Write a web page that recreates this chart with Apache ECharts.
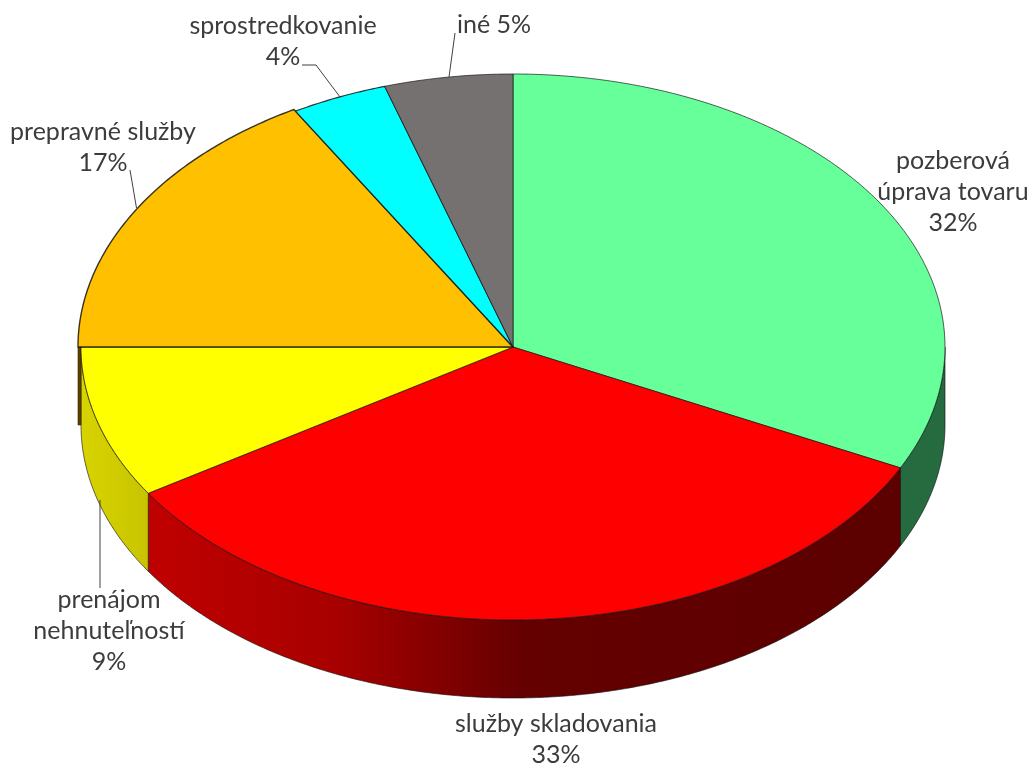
<!DOCTYPE html>
<html>
<head>
<meta charset="utf-8">
<style>html,body{margin:0;padding:0;background:#fff}#c{width:1032px;height:765px}</style>
<script src="https://cdn.jsdelivr.net/npm/echarts@6/dist/echarts.min.js"></script>
</head>
<body>
<div id="c"></div>
<script>
// Data
const categories = ['pozberová úprava tovaru', 'služby skladovania', 'prenájom nehnuteľností', 'prepravné služby', 'sprostredkovanie', 'iné'];
const percentLabels = [32, 33, 9, 17, 4, 5];
// visible share of the ellipse turn that each slice occupies in the tilted drawing
const visibleShares = [32.3, 33.7, 9.0, 16.6, 3.6, 4.8];

// Styles and layout
const topColors = ['#66ff99', '#ff0000', '#ffff00', '#ffc000', '#00ffff', '#767171'];
const wallColors = [
  '#256b3f',
  {type:'linear', x:147, y:0, x2:900, y2:0, global:true, colorStops:[{offset:0,color:'#c00000'},{offset:0.25,color:'#a80000'},{offset:0.5,color:'#640000'},{offset:1,color:'#5c0000'}]},
  {type:'linear', x:81, y:0, x2:147, y2:0, global:true, colorStops:[{offset:0,color:'#d8d400'},{offset:1,color:'#c8c400'}]},
  '#5a4000', '#00a0a0', '#4a4646'
];
const radiusScale = [1, 1, 1, 1.007, 1, 1];
const edgeWidths = [0.8, 0.8, 0.8, 1.4, 1.2, 0.8];
const labelLayout = [
  {name:0, lines:['pozberová', 'úprava tovaru'], x:953, y:192},
  {name:1, lines:['služby skladovania'], x:556, y:739.5},
  {name:2, lines:['prenájom', 'nehnuteľností'], x:109, y:631},
  {name:3, lines:['prepravné služby'], x:103, y:147.5},
  {name:4, lines:['sprostredkovanie'], x:283, y:41.5}
];
const inlineLabel = {name:5, x:494, y:25};
const leaderLines = [
  [[302,65],[316,65],[340,97]],
  [[455,33],[449,77]],
  [[130,170],[136.5,208]],
  [[100,500],[100,588]]
];
const DEPTH = 78 / 273; // wall height in y-axis units

let acc = 0;
const rows = visibleShares.map((v, i) => { const r = [acc, acc + v, i]; acc += v; return r; });
const total = acc;
const ang = s => s / total * 2 * Math.PI;
const pt = (api, t, r, dz) => api.coord([r * Math.sin(t), r * Math.cos(t) - (dz || 0)]);

function arc(api, a, b, r, dz) {
  const n = Math.max(2, Math.ceil((b - a) / 0.01));
  const out = [];
  for (let k = 0; k <= n; k++) out.push(pt(api, a + (b - a) * k / n, r, dz));
  return out;
}
function renderTop(params, api) {
  const a = ang(api.value(0)), b = ang(api.value(1)), i = api.value(2);
  const pts = [api.coord([0, 0])].concat(arc(api, a, b, radiusScale[i]));
  return {type:'polygon', shape:{points:pts}, style:{fill:topColors[i], stroke:'rgba(20,20,20,0.85)', lineWidth:edgeWidths[i], lineJoin:'round'}};
}
function renderWall(params, api) {
  const a = ang(api.value(0)), b = ang(api.value(1)), i = api.value(2);
  const s = radiusScale[i];
  const children = [];
  const from = Math.max(a, Math.PI / 2), to = Math.min(b, Math.PI * 1.5);
  if (to > from) {
    const upper = arc(api, from, to, s);
    const lower = arc(api, from, to, s, DEPTH).reverse();
    children.push({type:'polygon', shape:{points:upper.concat(lower)},
      style:{fill:wallColors[i], stroke:'rgba(20,20,20,0.8)', lineWidth:0.8}});
  }
  if (s > 1) {
    const t = a;
    children.push({type:'polygon', shape:{points:[pt(api,t,1),pt(api,t,s),pt(api,t,s,DEPTH),pt(api,t,1,DEPTH)]},
      style:{fill:wallColors[i], stroke:'#3a2a00', lineWidth:0.6}});
  }
  return {type:'group', children};
}

const labelTexts = labelLayout.map(l => ({x:l.x, y:l.y, text:l.lines.concat(percentLabels[l.name] + '%').join('\n')}))
  .concat({x:inlineLabel.x, y:inlineLabel.y, text:categories[inlineLabel.name] + ' ' + percentLabels[inlineLabel.name] + '%'});

const graphic = labelTexts.map(l => ({
  type:'text', x:l.x, y:l.y, silent:true, z:10,
  style:{text:l.text, fill:'#3c3c3c', font:'25px Lato', lineHeight:31, align:'center', verticalAlign:'middle'}
})).concat(leaderLines.map(p => ({
  type:'polyline', silent:true, z:9, shape:{points:p}, style:{stroke:'#404040', lineWidth:1, fill:null}
})));

const chart = echarts.init(document.getElementById('c'), null, {renderer:'canvas'});
chart.setOption({
  animation:false,
  backgroundColor:'#ffffff',
  grid:{left:81, width:864, top:74, height:546},
  xAxis:{type:'value', min:-1, max:1, show:false},
  yAxis:{type:'value', min:-1, max:1, show:false},
  tooltip:{show:false},
  graphic,
  series:[
    {type:'custom', name:'walls', z:1, silent:true, clip:false, renderItem:renderWall, data:rows, encode:{x:0,y:1}},
    {type:'custom', name:'tops', z:2, silent:true, clip:false, renderItem:renderTop, data:rows, encode:{x:0,y:1}}
  ]
});
</script>
</body>
</html>
